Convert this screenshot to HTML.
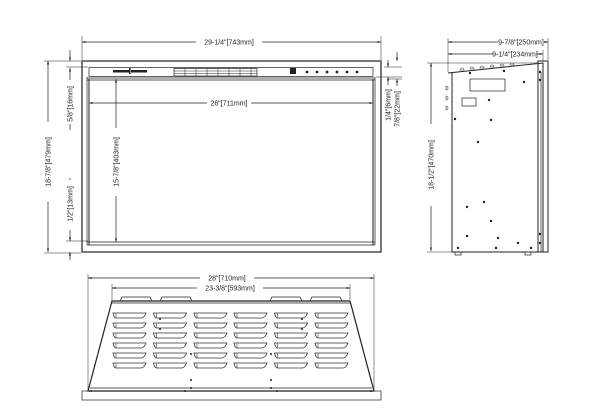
<!DOCTYPE html>
<html><head><meta charset="utf-8"><style>
html,body{margin:0;padding:0;background:#fff;width:600px;height:418px;overflow:hidden}
svg text{font-family:"Liberation Sans",sans-serif;font-size:7px;fill:#222}
</style></head><body>
<svg width="600" height="418" viewBox="0 0 600 418" xmlns="http://www.w3.org/2000/svg">
<defs>
<marker id="a" viewBox="0 0 10 10" refX="10" refY="5" markerWidth="5" markerHeight="5" orient="auto-start-reverse"><path d="M0,2 L10,5 L0,8" fill="#222"/></marker>
<g id="lv"><path d="M0,0 H33 Q31,5 28,5 H3 Q1,5 0,0 Z" fill="none" stroke="#333" stroke-width="0.8"/><line x1="3" y1="0.5" x2="3" y2="4.5" stroke="#333" stroke-width="0.6"/></g>
<g id="row"><use href="#lv" x="113"/><use href="#lv" x="153.5"/><use href="#lv" x="194"/><use href="#lv" x="234"/><use href="#lv" x="274.5"/><use href="#lv" x="315"/></g>
</defs>
<g stroke="#222" fill="none" stroke-width="0.7">
<rect x="82" y="61" width="299" height="191" stroke-width="1.2"/>
<rect x="89" y="67.5" width="284" height="9"/>
<line x1="89" y1="79" x2="89" y2="245" stroke-width="1"/>
<line x1="373" y1="79" x2="373" y2="245" stroke-width="1"/>
<line x1="87" y1="78" x2="375" y2="78"/><line x1="87" y1="80" x2="375" y2="80"/>
<line x1="87" y1="242" x2="375" y2="242"/><line x1="87" y1="245" x2="375" y2="245"/>
<line x1="87" y1="77" x2="87" y2="245"/><line x1="375" y1="77" x2="375" y2="245"/>
<rect x="174" y="68.5" width="83" height="7.5"/>
<line x1="174" y1="71" x2="257" y2="71" stroke-width="0.5"/><line x1="174" y1="73.5" x2="257" y2="73.5" stroke-width="0.5"/>
<g stroke-width="0.5"><line x1="185" y1="68.5" x2="185" y2="76"/><line x1="196" y1="68.5" x2="196" y2="76"/><line x1="207" y1="68.5" x2="207" y2="76"/><line x1="218" y1="68.5" x2="218" y2="76"/><line x1="229" y1="68.5" x2="229" y2="76"/><line x1="240" y1="68.5" x2="240" y2="76"/><line x1="251" y1="68.5" x2="251" y2="76"/></g>
<line x1="82" y1="42" x2="381" y2="42" marker-start="url(#a)" marker-end="url(#a)"/>
<line x1="82" y1="36" x2="82" y2="60" stroke-width="0.5"/><line x1="381" y1="36" x2="381" y2="60" stroke-width="0.5"/>
<line x1="48" y1="61" x2="48" y2="252" marker-start="url(#a)" marker-end="url(#a)"/>
<line x1="44" y1="61" x2="81" y2="61" stroke-width="0.5"/><line x1="44" y1="253" x2="81" y2="253" stroke-width="0.5"/>
<line x1="70" y1="50" x2="70" y2="61" marker-end="url(#a)"/><line x1="70" y1="68" x2="70" y2="80" marker-start="url(#a)"/>
<line x1="66" y1="67" x2="88" y2="67" stroke-width="0.5"/>
<line x1="70" y1="110" x2="70" y2="130"/>
<line x1="70" y1="178" x2="70" y2="190"/><line x1="70" y1="230" x2="70" y2="241" marker-end="url(#a)"/><line x1="70" y1="252" x2="70" y2="260" marker-start="url(#a)"/>
<line x1="66" y1="241" x2="88" y2="241" stroke-width="0.5"/>
<line x1="116" y1="79" x2="116" y2="242" marker-start="url(#a)" marker-end="url(#a)"/>
<line x1="89" y1="103" x2="373" y2="103" marker-start="url(#a)" marker-end="url(#a)"/>
<line x1="384" y1="67" x2="402" y2="67" stroke-width="0.5"/><line x1="376" y1="77" x2="402" y2="77" stroke-width="0.5"/>
<line x1="388" y1="60" x2="388" y2="67" marker-end="url(#a)"/><line x1="388" y1="77" x2="388" y2="85" marker-start="url(#a)"/>
<line x1="397" y1="52" x2="397" y2="61" marker-end="url(#a)"/><line x1="397" y1="79" x2="397" y2="88" marker-start="url(#a)"/>
<line x1="388" y1="79" x2="402" y2="79" stroke-width="0.5"/>
<path d="M448,73 L543,63 V252 H452 V73" stroke-width="1"/>
<line x1="452" y1="73" x2="452" y2="252"/>
<rect x="538" y="61" width="10" height="191" stroke-width="1"/>
<line x1="541" y1="72" x2="541" y2="252"/>
<rect x="470" y="79" width="35" height="12"/>
<rect x="462" y="98" width="14" height="8"/>
<line x1="431" y1="63" x2="431" y2="251" marker-start="url(#a)" marker-end="url(#a)"/>
<line x1="427" y1="63" x2="538" y2="63" stroke-width="0.5"/><line x1="427" y1="252" x2="452" y2="252" stroke-width="0.5"/>
<line x1="448" y1="42" x2="548" y2="42" marker-start="url(#a)" marker-end="url(#a)"/>
<line x1="448" y1="54" x2="543" y2="54" marker-start="url(#a)" marker-end="url(#a)"/>
<line x1="448" y1="38" x2="448" y2="72" stroke-width="0.5"/><line x1="548" y1="38" x2="548" y2="60" stroke-width="0.5"/><line x1="543" y1="50" x2="543" y2="62" stroke-width="0.5"/>
<rect x="455" y="252" width="6" height="3"/><rect x="525" y="252" width="6" height="3"/>
<line x1="88" y1="278" x2="374" y2="278" marker-start="url(#a)" marker-end="url(#a)"/>
<line x1="112" y1="288" x2="350" y2="288" marker-start="url(#a)" marker-end="url(#a)"/>
<line x1="88" y1="274" x2="88" y2="390" stroke-width="0.5"/><line x1="374" y1="274" x2="374" y2="390" stroke-width="0.5"/>
<line x1="112" y1="284" x2="112" y2="300" stroke-width="0.5"/><line x1="350" y1="284" x2="350" y2="300" stroke-width="0.5"/>
<path d="M112,301 H350 L374,391 H88 Z" stroke-width="1.2"/>
<line x1="111" y1="303" x2="351" y2="303"/>
<line x1="90" y1="388" x2="372" y2="388"/>
<rect x="82" y="391" width="299" height="9"/>
<path d="M120,301 L122,297 H150 L152,301 M160,301 L162,297 H190 L192,301 M270,301 L272,297 H300 L302,301 M310,301 L312,297 H340 L342,301"/>
</g>
<use href="#row" y="313"/>
<use href="#row" y="323"/>
<use href="#row" y="333"/>
<use href="#row" y="343"/>
<use href="#row" y="353"/>
<use href="#row" y="363"/>
<g fill="#222">
<rect x="290" y="68" width="6" height="6"/>
<circle cx="307" cy="72" r="1.4"/><circle cx="317" cy="72" r="1.4"/><circle cx="327" cy="72" r="1.4"/><circle cx="337" cy="72" r="1.4"/><circle cx="347" cy="72" r="1.4"/><circle cx="357" cy="72" r="1.4"/>
<rect x="113" y="70" width="16" height="2.5"/><rect x="131" y="70" width="16" height="2.5"/><rect x="129" y="68" width="1.5" height="6"/>
<circle cx="470" cy="73" r="1.2"/><circle cx="504" cy="71" r="1.2"/><circle cx="524" cy="82" r="1.2"/><circle cx="489" cy="100" r="1.2"/><circle cx="455" cy="119" r="1.2"/><circle cx="491" cy="120" r="1.2"/><circle cx="478" cy="142" r="1.2"/><circle cx="484" cy="202" r="1.2"/><circle cx="467" cy="207" r="1.2"/><circle cx="491" cy="221" r="1.2"/><circle cx="467" cy="236" r="1.2"/><circle cx="498" cy="238" r="1.2"/><circle cx="518" cy="243" r="1.2"/><circle cx="458" cy="248" r="1.2"/><circle cx="496" cy="248" r="1.2"/><circle cx="531" cy="248" r="1.2"/><circle cx="540" cy="72" r="1.2"/><circle cx="540" cy="80" r="1.2"/><circle cx="540" cy="234" r="1.2"/><circle cx="540" cy="243" r="1.2"/>
<circle cx="160" cy="319" r="1"/><circle cx="302" cy="319" r="1"/><circle cx="160" cy="329" r="1"/><circle cx="302" cy="329" r="1"/><circle cx="191" cy="354" r="1"/><circle cx="271" cy="354" r="1"/><circle cx="191" cy="380" r="1"/><circle cx="271" cy="380" r="1"/><circle cx="191" cy="388" r="1"/><circle cx="271" cy="388" r="1"/><circle cx="185" cy="391" r="1"/><circle cx="277" cy="391" r="1"/><circle cx="91" cy="391" r="1"/><circle cx="371" cy="391" r="1"/>
</g>
<g stroke="#333" fill="none" stroke-width="0.6">
<path d="M460,70 a2,2 0 0 1 4,0 z M470,69 a2,2 0 0 1 4,0 z M480,68 a2,2 0 0 1 4,0 z M490,67 a2,2 0 0 1 4,0 z M500,66 a2,2 0 0 1 4,0 z M510,65 a2,2 0 0 1 4,0 z"/>
<path d="M446,86 a2,2 0 0 1 0,4 z M446,96 a2,2 0 0 1 0,4 z M446,106 a2,2 0 0 1 0,4 z"/>
</g>
<g fill="#fff">
<rect x="196" y="37" width="66" height="9"/><rect x="207" y="98" width="44" height="9"/>
<rect x="498" y="37" width="46" height="9"/><rect x="494" y="49" width="42" height="9"/>
<rect x="200" y="273" width="54" height="9"/><rect x="197" y="283" width="66" height="9"/>
<rect x="43" y="122" width="10" height="80"/><rect x="65" y="84" width="10" height="40"/><rect x="65" y="180" width="10" height="48"/>
<rect x="111" y="128" width="10" height="68"/><rect x="426" y="124" width="10" height="82"/>
<rect x="384" y="86" width="9" height="38"/><rect x="393" y="86" width="9" height="46"/>
</g>
<text x="229" y="44.5" text-anchor="middle">29-1/4"[743mm]</text>
<text x="229" y="105.5" text-anchor="middle">28"[711mm]</text>
<text x="521" y="44.5" text-anchor="middle">9-7/8"[250mm]</text>
<text x="515" y="56.5" text-anchor="middle">9-1/4"[234mm]</text>
<text x="227" y="280.5" text-anchor="middle">28"[710mm]</text>
<text x="230" y="290.5" text-anchor="middle">23-3/8"[593mm]</text>
<text transform="translate(50.5,162) rotate(-90)" text-anchor="middle">18-7/8"[479mm]</text>
<text transform="translate(72.5,104) rotate(-90)" text-anchor="middle">5/8"[16mm]</text>
<text transform="translate(72.5,204) rotate(-90)" text-anchor="middle">1/2"[13mm]</text>
<text transform="translate(118.5,162) rotate(-90)" text-anchor="middle">15-7/8"[403mm]</text>
<text transform="translate(433.5,165) rotate(-90)" text-anchor="middle">18-1/2"[470mm]</text>
<text transform="translate(390.5,105) rotate(-90)" text-anchor="middle">1/4"[6mm]</text>
<text transform="translate(399.5,109) rotate(-90)" text-anchor="middle">7/8"[22mm]</text>
</svg>
</body></html>
